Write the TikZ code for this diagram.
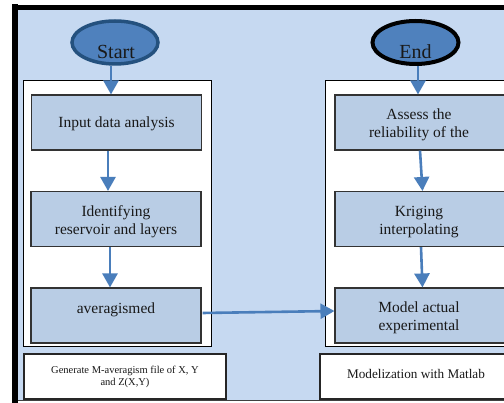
\documentclass[tikz,border=0pt]{standalone}
\usepackage{fontspec}
\setmainfont{Liberation Serif}
\usetikzlibrary{arrows.meta,shapes.geometric,calc}
\definecolor{bgblue}{HTML}{C6D9F1}
\definecolor{boxblue}{HTML}{B9CDE5}
\definecolor{arrblue}{HTML}{4A7EBB}
\definecolor{ellblue}{HTML}{4F81BD}
\definecolor{navy}{HTML}{24517E}
\begin{document}
\begin{tikzpicture}[x=1pt,y=-1pt,
 every node/.style={text=black!90},
 stepbox/.style={draw=black!80, line width=1.1pt, fill=boxblue, minimum width=170pt, minimum height=55pt, inner sep=0pt},
 boxtext/.style={inner sep=0pt, align=center, font=\fontsize{15.5}{18}\selectfont},
 arr/.style={draw=arrblue, line width=2.6pt, -{Triangle[width=15pt,length=14pt]}},
 container/.style={draw=black, line width=0.8pt, fill=white},
 notebox/.style={draw=black!85, line width=1.8pt, fill=white, inner sep=0pt, minimum height=45pt},
 notetext/.style={inner sep=0pt, align=center},
 term/.style={ellipse, fill=ellblue, minimum width=86pt, minimum height=43pt, inner sep=0pt},
 termtext/.style={inner sep=0pt, font=\fontsize{20}{20}\selectfont}]

\clip (0,0) rectangle (504,403);
\fill[white] (0,0) rectangle (504,403);
\fill[bgblue] (15,8) rectangle (520,400);
\draw[black, line width=6pt] (15,4.5) -- (15,403);
\draw[black, line width=5pt] (12,7.5) -- (520,7.5);
\draw[black!75, line width=1.5pt] (18,400.5) -- (520,400.5);

% containers
\draw[container] (23,80) rectangle (211,346);
\draw[container] (325,80) rectangle (515,346);

% terminals
\node[term, draw=navy, line width=3.5pt] (start) at (115,42.5) {};
\node[termtext] (startlbl) at (116,51.5) {Start};
\node[term, draw=black, line width=4pt] (end) at (415.5,42.5) {};
\node[termtext] (endlbl) at (415.5,51.5) {End};

% left column
\node[stepbox] (b1) at (116.5,122.5) {};
\node[boxtext] (t1) at (116.5,124) {Input data analysis};
\node[stepbox] (b2) at (116,219) {};
\node[boxtext] (t2) at (116,222) {Identifying\\reservoir and layers};
\node[stepbox] (b3) at (116,315.5) {};
\node[boxtext] (t3) at (116,310) {averagismed};

% right column
\node[stepbox] (ra) at (420,122.5) {};
\node[boxtext] (tra) at (419,124.5) {Assess the\\reliability of the};
\node[stepbox] (rk) at (420,219) {};
\node[boxtext] (trk) at (419,222) {Kriging\\interpolating};
\node[stepbox] (rm) at (420,315.5) {};
\node[boxtext] (trm) at (419,318) {Model actual\\experimental};

% notes
\node[notebox, minimum width=202pt] (gen) at (125,376.5) {};
\node[notetext, font=\fontsize{10.5}{12.5}\selectfont] (tgen) at (125,377) {Generate M-averagism file of X, Y\\and Z(X,Y)};
\node[notebox, minimum width=195pt] (mod) at (417.5,376.5) {};
\node[notetext, font=\fontsize{13.2}{15}\selectfont] (tmod) at (416,374) {Modelization with Matlab};

% arrows
\draw[arr] ($(start.south)+(-4,0)$) -- ($(b1.north)+(-5.5,0)$);
\draw[arr] ($(b1.south)+(-8.5,0)$) -- ($(b2.north)+(-8,0)$);
\draw[arr] ($(b2.south)+(-6,0)$) -- ($(b3.north)+(-6,0)$);
\draw[arr] ($(end.south)+(2.5,0)$) -- ($(ra.north)+(-2,0)$);
\draw[arr] ($(ra.south)+(0,0)$) -- ($(rk.north)+(2.5,0)$);
\draw[arr] ($(rk.south)+(1,0)$) -- ($(rm.north)+(2.5,0)$);
\draw[arr] ($(b3.east)+(1,-2.5)$) -- ($(rm.west)+(0,-4.5)$);
\end{tikzpicture}
\end{document}
